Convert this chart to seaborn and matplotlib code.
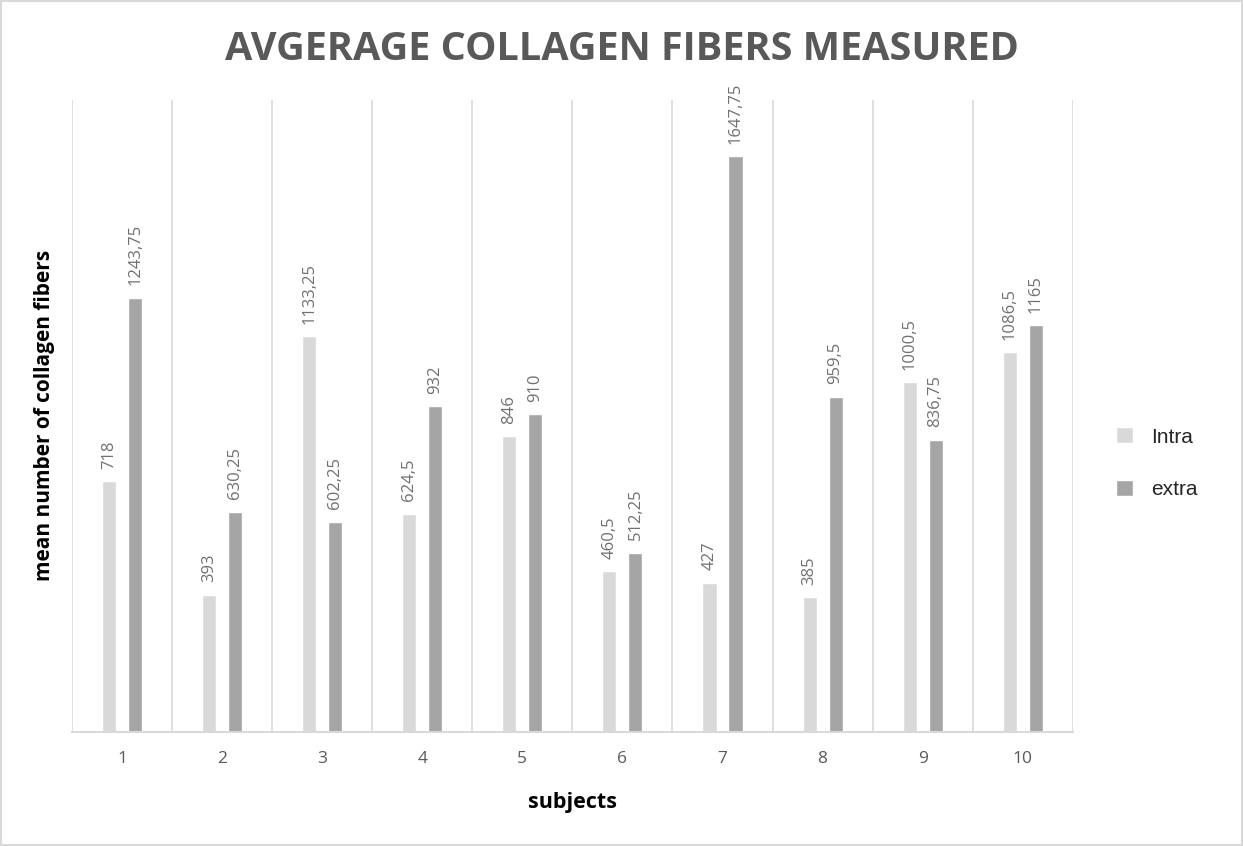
import matplotlib
matplotlib.use("Agg")
import matplotlib.pyplot as plt
import seaborn as sns
import pandas as pd

subjects = ["1", "2", "3", "4", "5", "6", "7", "8", "9", "10"]
intra = [718, 393, 1133.25, 624.5, 846, 460.5, 427, 385, 1000.5, 1086.5]
extra = [1243.75, 630.25, 602.25, 932, 910, 512.25, 1647.75, 959.5, 836.75, 1165]
series_names = ["Intra", "extra"]
colors = ["#D9D9D9", "#A5A5A5"]

df = pd.DataFrame({
    "subject": subjects * 2,
    "value": intra + extra,
    "series": [series_names[0]] * len(subjects) + [series_names[1]] * len(subjects),
})

sns.set_theme(style="white")
plt.rcParams["font.family"] = ["Open Sans", "DejaVu Sans"]

fig = plt.figure(figsize=(12.43, 8.46), dpi=100)
fig.patch.set_facecolor("white")
fig.patch.set_edgecolor("#D9D9D9")
fig.patch.set_linewidth(1.5)
ax = fig.add_axes([0.058, 0.135, 0.805, 0.747])

sns.barplot(data=df, x="subject", y="value", hue="series", order=subjects,
            hue_order=series_names, palette=colors, width=0.52, gap=0.46,
            saturation=1, ax=ax, legend=True)

def fmt(v):
    return f"{v:g}".replace(".", ",")

for cont, vals in zip(ax.containers, [intra, extra]):
    ax.bar_label(cont, labels=[fmt(v) for v in vals], rotation=90, padding=9,
                 fontsize=12, color="#707070")

ax.set_ylim(0, 1810)
ax.set_xlim(-0.5, len(subjects) - 0.5)
ax.set_yticks([])
for b in range(len(subjects) + 1):
    ax.axvline(b - 0.5, color="#D9D9D9", lw=1.2, zorder=0)
for s in ["top", "right"]:
    ax.spines[s].set_visible(False)
ax.spines["left"].set_visible(False)
ax.spines["bottom"].set_color("#D9D9D9")
ax.spines["bottom"].set_linewidth(1.5)
ax.tick_params(axis="x", length=0, pad=14, labelsize=12.5, labelcolor="#595959")

ax.set_xlabel("subjects", fontsize=15.5, fontweight="bold", color="black", labelpad=18)
ax.set_ylabel("mean number of collagen fibers", fontsize=15, fontweight="bold",
              color="black", labelpad=12)

fig.text(0.5, 0.941, "AVGERAGE COLLAGEN FIBERS MEASURED", ha="center", va="center",
         fontsize=28.5, fontweight="bold", color="#595959")

handles, labels = ax.get_legend_handles_labels()
ax.legend(handles, labels, loc="center left", bbox_to_anchor=(1.025, 0.425),
          frameon=False, handlelength=0.8, handleheight=0.8, handletextpad=0.85,
          labelspacing=1.6, prop={"family": "Liberation Sans", "size": 15})

fig.savefig("out.png", dpi=100, facecolor="white", edgecolor=fig.get_edgecolor())
